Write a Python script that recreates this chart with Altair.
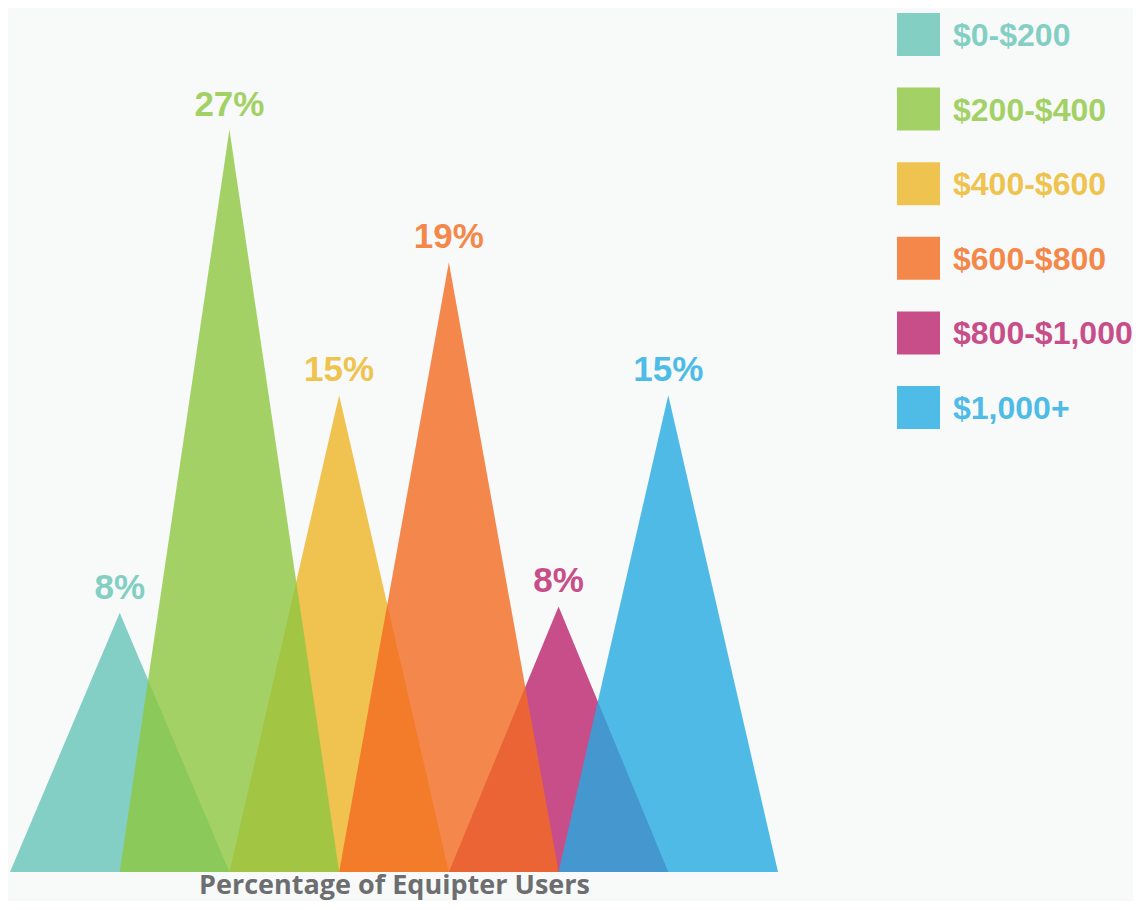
import altair as alt
import pandas as pd

categories = ["$0-$200", "$200-$400", "$400-$600", "$600-$800", "$800-$1,000", "$1,000+"]
value_labels = ["8%", "27%", "15%", "19%", "8%", "15%"]
peak_heights = [8.1, 23.2, 14.9, 19.05, 8.3, 14.9]
legend_colors = ["#84CFC4", "#A3D165", "#EFC34F", "#F4884B", "#C84E8A", "#4FBBE7"]
fill_colors = ["#67C4B8", "#8EC740", "#EDB425", "#F36A20", "#BC236E", "#24AAE1"]
draw_order = [0, 2, 4, 1, 3, 5]
x_title = "Percentage of Equipter Users"

NARROW = "Liberation Sans"

rows = []
for i, (c, h, fc) in enumerate(zip(categories, peak_heights, fill_colors)):
    rows.append({"idx": i, "cat": c, "x": i, "y": 0, "fc": fc})
    rows.append({"idx": i, "cat": c, "x": i + 1, "y": h, "fc": fc})
    rows.append({"idx": i, "cat": c, "x": i + 2, "y": 0, "fc": fc})
tri = pd.DataFrame(rows)

peaks = pd.DataFrame({
    "cat": categories,
    "x": [i + 1 for i in range(len(categories))],
    "y": peak_heights,
    "label": value_labels,
    "lc": legend_colors,
})

leg = pd.DataFrame({"cat": categories, "lc": legend_colors})

xscale = alt.Scale(domain=[0, 7], nice=False, zero=False)
yscale = alt.Scale(domain=[0, 27], nice=False)

xaxis = alt.Axis(title=x_title, labels=False, ticks=False, domain=False, grid=False,
                 titleFont="Open Sans", titleFontSize=27, titleFontWeight="bold",
                 titleColor="#6D6E70", titlePadding=0)

layers = []
for i in draw_order:
    layers.append(
        alt.Chart(tri).transform_filter(alt.datum.idx == i).mark_area(opacity=0.8).encode(
            x=alt.X("x:Q", scale=xscale, axis=xaxis),
            y=alt.Y("y:Q", scale=yscale, axis=None, stack=None),
            color=alt.Color("fc:N", scale=None),
        )
    )

texts = alt.Chart(peaks).mark_text(baseline="alphabetic", dy=-14, font=NARROW,
                                   fontSize=35, fontWeight="bold").encode(
    x=alt.X("x:Q", scale=xscale, axis=xaxis),
    y=alt.Y("y:Q", scale=yscale, axis=None),
    text="label:N",
    color=alt.Color("lc:N", scale=None),
)

main = alt.layer(*layers, texts).properties(width=768, height=864)

ly = alt.Y("cat:N", sort=categories, axis=None, scale=alt.Scale(padding=0.355))
squares = alt.Chart(leg).mark_square(size=1849, opacity=1, filled=True).encode(
    y=ly, x=alt.value(21.5), color=alt.Color("lc:N", scale=None)
)
ltext = alt.Chart(leg).mark_text(align="left", baseline="alphabetic", dy=11.5, font=NARROW,
                                 fontSize=32, fontWeight="bold").encode(
    y=ly, x=alt.value(56), text="cat:N", color=alt.Color("lc:N", scale=None)
)
legend = alt.layer(squares, ltext).properties(width=170, height=426)

chart = alt.hconcat(main, legend, spacing=119).properties(
    padding={"left": 2, "top": 0, "right": 0, "bottom": 3},
    background="#F8FAF9",
).configure_view(stroke=None)

chart.save("out.html", embed_options={"renderer": "svg", "actions": False})
